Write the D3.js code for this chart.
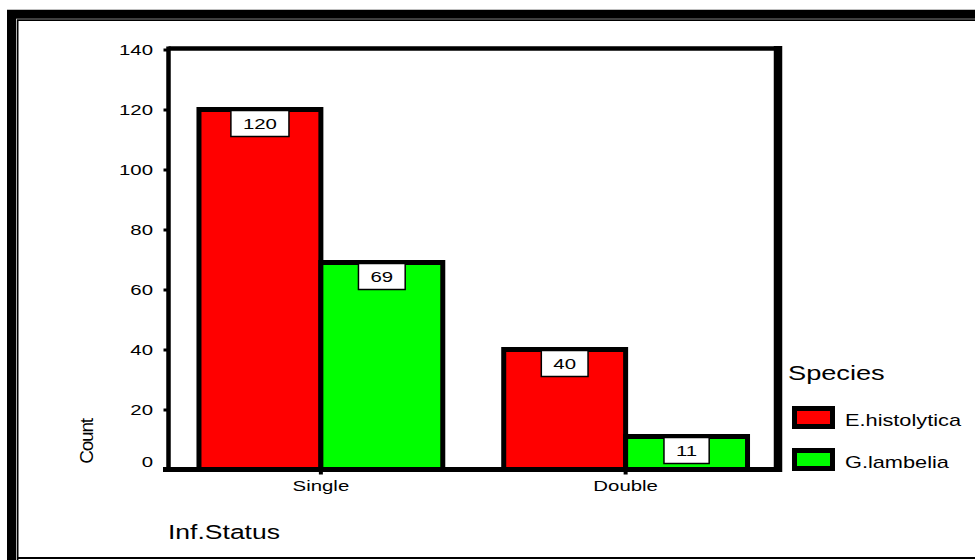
<!DOCTYPE html>
<html>
<head>
<meta charset="utf-8">
<script src="https://cdn.jsdelivr.net/npm/d3@7"></script>
<style>
  html, body { margin: 0; padding: 0; background: #fff; }
  svg { display: block; }
  text { font-family: "Liberation Sans", Arial, sans-serif; fill: #000; }
</style>
</head>
<body>
<svg id="chart" width="975" height="560"></svg>
<script>
// Infection status counts by species
const categories = ["Single", "Double"];
const species = ["E.histolytica", "G.lambelia"];
const eHistolytica = [120, 40];
const gLambelia = [69, 11];
const yTicks = [0, 20, 40, 60, 80, 100, 120, 140];
const colors = ["#ff0000", "#00ff00"];

const seriesValues = [eHistolytica, gLambelia];
const rows = categories.map((c, i) => ({
  category: c,
  values: species.map((s, j) => ({ species: s, value: seriesValues[j][i], idx: j }))
}));

const svg = d3.select("#chart");
const SX = 1.36; // horizontal stretch applied to all text

// Frame geometry
const plotLeft = 168.5, plotRight = 778, plotTop = 49.5, plotBottom = 469.5;

const x0 = d3.scaleBand().domain(categories).range([plotLeft, plotRight]).paddingInner(0).paddingOuter(0);
const x1 = d3.scaleBand().domain(species).range([0, x0.bandwidth()]).paddingInner(0).paddingOuter(0.25);
const y = d3.scaleLinear().domain([0, 140]).range([plotBottom, plotTop]);
const color = d3.scaleOrdinal().domain(species).range(colors);

// Outer double border
svg.append("path")
  .attr("d", "M11.5,560 V14.2 H975")
  .attr("fill", "none").attr("stroke", "#000").attr("stroke-width", 9);
svg.append("path")
  .attr("d", "M17.6,560 V20.2 H975 M17.6,558 H975")
  .attr("fill", "none").attr("stroke", "#000").attr("stroke-width", 1.8);

// helper for stretched text
function stretchedText(g, x, yy, str, size, anchor) {
  return g.append("text")
    .attr("transform", `translate(${x},${yy}) scale(${SX},1)`)
    .attr("text-anchor", anchor)
    .style("font-size", size + "px")
    .text(str);
}

// Bars
const groups = svg.append("g").selectAll("g")
  .data(rows).join("g")
  .attr("transform", d => `translate(${x0(d.category)},0)`);

groups.selectAll("rect.bar")
  .data(d => d.values).join("rect")
  .attr("class", "bar")
  .attr("x", d => x1(d.species))
  .attr("width", x1.bandwidth())
  .attr("y", d => y(d.value))
  .attr("height", d => y(0) - y(d.value))
  .attr("fill", d => color(d.species))
  .attr("stroke", "#000")
  .attr("stroke-width", 5);

// Value labels in white boxes
groups.each(function (d) {
  const g = d3.select(this);
  d.values.forEach(v => {
    const cx = x1(v.species) + x1.bandwidth() / 2;
    const ty = y(v.value);
    const lg = g.append("g");
    const t = stretchedText(lg, cx, ty + 19, String(v.value), 15, "middle");
    const w = t.node().getBBox().width * SX + 24;
    lg.insert("rect", "text")
      .attr("x", cx - w / 2)
      .attr("y", ty + 1)
      .attr("width", w)
      .attr("height", 26)
      .attr("fill", "#fff")
      .attr("stroke", "#000")
      .attr("stroke-width", 1.5);
  });
});

// Frame: top and right
svg.append("line").attr("x1", plotLeft).attr("x2", plotRight).attr("y1", plotTop - 1).attr("y2", plotTop - 1)
  .attr("stroke", "#000").attr("stroke-width", 4.5);
svg.append("line").attr("x1", plotRight).attr("x2", plotRight).attr("y1", plotTop - 3.5).attr("y2", plotBottom + 2.5)
  .attr("stroke", "#000").attr("stroke-width", 8.5);

// Y axis
const yAxis = d3.axisLeft(y).tickValues(yTicks).tickSize(5).tickFormat("");
const yg = svg.append("g").attr("transform", `translate(${plotLeft},0)`).call(yAxis);
yg.select(".domain").attr("stroke", "#000").attr("stroke-width", 4.5)
  .attr("d", `M0,${plotTop - 3} V${plotBottom + 2.5}`);
yg.selectAll(".tick line").attr("stroke", "#000").attr("stroke-width", 3).attr("x1", -1);
yTicks.forEach(v => {
  stretchedText(svg, 153, y(v) + 5.5 - (v === 0 ? 8.5 : 0), String(v), 15, "end");
});

// X axis
const xAxis = d3.axisBottom(x0).tickSize(5).tickFormat("");
const xg = svg.append("g").attr("transform", `translate(0,${plotBottom})`).call(xAxis);
xg.select(".domain").attr("stroke", "#000").attr("stroke-width", 5)
  .attr("d", `M${plotLeft - 5.5},0 H${plotRight + 4}`);
xg.selectAll(".tick line").attr("stroke", "#000").attr("stroke-width", 4);
categories.forEach(c => {
  stretchedText(svg, x0(c) + x0.bandwidth() / 2, 490.5, c, 15, "middle");
});

// Axis titles
stretchedText(svg, 168, 539, "Inf.Status", 19.5, "start");
svg.append("text")
  .attr("transform", "translate(93,441.5) rotate(-90)")
  .attr("text-anchor", "middle")
  .style("font-size", "19px")
  .style("letter-spacing", "-1.2px")
  .text("Count");

// Legend
const legend = svg.append("g");
stretchedText(legend, 788, 380, "Species", 20, "start");
species.forEach((s, i) => {
  const ly = 408.5 + i * 42;
  legend.append("rect")
    .attr("x", 794.5).attr("y", ly)
    .attr("width", 38).attr("height", 18)
    .attr("fill", color(s)).attr("stroke", "#000").attr("stroke-width", 5);
  stretchedText(legend, 845, ly + 17, s, 16, "start");
});
</script>
</body>
</html>
